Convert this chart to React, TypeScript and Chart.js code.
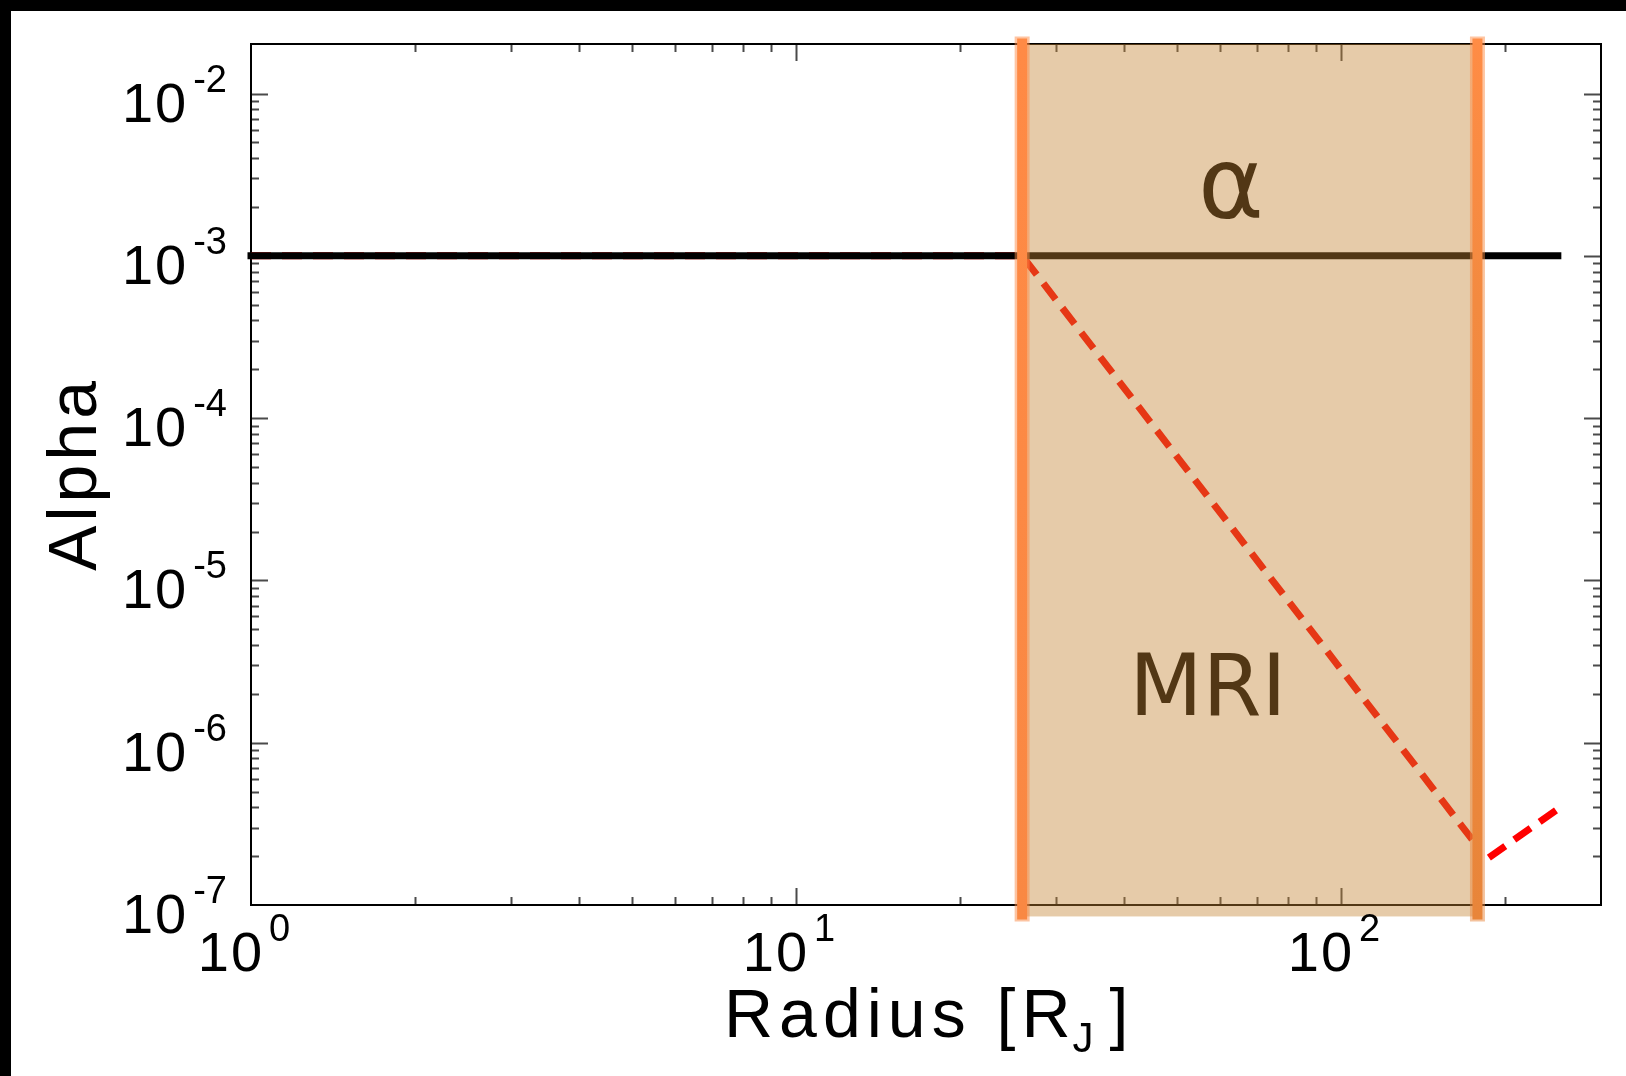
import React, { useEffect, useRef } from 'react';
import { Chart, registerables } from 'chart.js';

Chart.register(...registerables);

// Axis ranges (log-log)
const radiusRange = [1, 300];
const alphaRange = [1e-7, 2.02e-2];
const xDecades = [0, 1, 2];
const yDecades = [-7, -6, -5, -4, -3, -2];

// Constant viscosity alpha
const constRadius = [1, 250];
const constAlpha = [1e-3, 1e-3];

// MRI-driven alpha profile
const mriRadius = [1, 26, 178, 178, 250];
const mriAlpha = [1e-3, 1e-3, 2.3e-7, 1.75e-7, 3.9e-7];

// MRI-active zone boundaries [R_J] and vertical extents
const zoneEdges = [26, 178];
const zoneSpan = [8.5e-8, 2.02e-2];
const edgeSpan = [7.9e-8, 2.25e-2];

// In-zone annotations
const zoneLabels = ['α', 'MRI'];
const zoneLabelRadius = [62.8, 57];
const zoneLabelAlpha = [1.72e-3, 1.48e-6];

const SANS = '"Liberation Sans", Arial, Helvetica, sans-serif';
const LABEL_SANS = '"DejaVu Sans", "Liberation Sans", sans-serif';

function tickValues(decades: number[], min: number, max: number) {
  const out: { v: number; major: boolean }[] = [];
  for (const e of decades) {
    for (let m = 1; m <= 9; m++) {
      const v = m * Math.pow(10, e);
      if (v >= min * 0.999 && v <= max * 1.001) out.push({ v, major: m === 1 });
    }
  }
  return out;
}

const decor = {
  id: 'decor',
  beforeDraw(chart: any) {
    const { ctx, width, height } = chart;
    ctx.save();
    ctx.fillStyle = '#ffffff';
    ctx.fillRect(0, 0, width, height);
    ctx.fillStyle = '#000000';
    ctx.fillRect(0, 0, width, 11);
    ctx.fillRect(0, 0, 11, height);
    ctx.restore();
  },
  beforeDatasetsDraw(chart: any) {
    const { ctx, chartArea, scales } = chart;
    const { left, right, top, bottom } = chartArea;
    const x = scales.x;
    const y = scales.y;
    ctx.save();
    ctx.strokeStyle = '#4a4a4a';
    ctx.lineWidth = 2;
    ctx.beginPath();
    for (const t of tickValues(xDecades, radiusRange[0], radiusRange[1])) {
      const px = Math.round(x.getPixelForValue(t.v)) + 0.5;
      if (px <= left + 2 || px >= right - 2) continue;
      const len = t.major ? 17 : 8;
      ctx.moveTo(px, bottom);
      ctx.lineTo(px, bottom - len);
      ctx.moveTo(px, top);
      ctx.lineTo(px, top + len);
    }
    for (const t of tickValues(yDecades, alphaRange[0], alphaRange[1])) {
      const py = Math.round(y.getPixelForValue(t.v)) + 0.5;
      if (py <= top + 2 || py >= bottom - 2) continue;
      const len = t.major ? 17 : 8;
      ctx.moveTo(left, py);
      ctx.lineTo(left + len, py);
      ctx.moveTo(right, py);
      ctx.lineTo(right - len, py);
    }
    ctx.stroke();
    ctx.strokeStyle = '#000000';
    ctx.lineWidth = 2;
    ctx.strokeRect(left, top, right - left, bottom - top);
    ctx.restore();
  },
  afterDatasetsDraw(chart: any) {
    const { ctx, scales } = chart;
    const x = scales.x;
    const y = scales.y;
    ctx.save();
    // annotations (sit beneath the translucent zone)
    ctx.fillStyle = '#000000';
    ctx.textAlign = 'center';
    ctx.textBaseline = 'alphabetic';
    ctx.font = `100px ${LABEL_SANS}`;
    ctx.fillText(zoneLabels[0], x.getPixelForValue(zoneLabelRadius[0]), y.getPixelForValue(zoneLabelAlpha[0]));
    ctx.font = `85px ${LABEL_SANS}`;
    ctx.fillText(zoneLabels[1], x.getPixelForValue(zoneLabelRadius[1]), y.getPixelForValue(zoneLabelAlpha[1]));

    // MRI-active zone
    const x0 = x.getPixelForValue(zoneEdges[0]);
    const x1 = x.getPixelForValue(zoneEdges[1]);
    const yTop = y.getPixelForValue(zoneSpan[1]);
    const yBot = y.getPixelForValue(zoneSpan[0]);
    ctx.fillStyle = 'rgba(195,131,50,0.42)';
    ctx.fillRect(x0, yTop, x1 - x0, yBot - yTop);

    // zone boundaries
    const eTop = y.getPixelForValue(edgeSpan[1]);
    const eBot = y.getPixelForValue(edgeSpan[0]);
    zoneEdges.forEach((edge, i) => {
      const px = x.getPixelForValue(edge);
      const grad = ctx.createLinearGradient(0, eTop, 0, eBot);
      if (i === 0) {
        grad.addColorStop(0, '#ff8a45');
        grad.addColorStop(1, '#f98843');
      } else {
        grad.addColorStop(0, '#ff8c45');
        grad.addColorStop(0.3, '#f38a40');
        grad.addColorStop(1, '#e8853a');
      }
      ctx.strokeStyle = grad;
      ctx.globalAlpha = 0.5;
      ctx.lineWidth = 15;
      ctx.beginPath();
      ctx.moveTo(px, eTop);
      ctx.lineTo(px, eBot);
      ctx.stroke();
      ctx.globalAlpha = 1;
      ctx.lineWidth = 10;
      ctx.beginPath();
      ctx.moveTo(px, eTop + 2);
      ctx.lineTo(px, eBot - 2);
      ctx.stroke();
    });
    ctx.restore();
  },
  afterDraw(chart: any) {
    const { ctx, chartArea, scales } = chart;
    const { left, bottom } = chartArea;
    const x = scales.x;
    const y = scales.y;
    ctx.save();
    ctx.fillStyle = '#000000';
    ctx.textBaseline = 'alphabetic';
    ctx.textAlign = 'left';
    const baseFont = `56px ${SANS}`;
    const supFont = `38px ${SANS}`;
    const measure = (e: number) => {
      ctx.font = baseFont;
      (ctx as any).letterSpacing = '2px';
      const w1 = ctx.measureText('10').width;
      ctx.font = supFont;
      (ctx as any).letterSpacing = '0px';
      const w2 = ctx.measureText(String(e)).width;
      return { w1, w2 };
    };
    const drawPow = (e: number, sx: number, baseY: number, supY: number) => {
      const { w1 } = measure(e);
      ctx.font = baseFont;
      (ctx as any).letterSpacing = '2px';
      ctx.fillText('10', sx, baseY);
      ctx.font = supFont;
      (ctx as any).letterSpacing = '0px';
      ctx.fillText(String(e), sx + w1 + 5, supY);
    };
    // x tick labels
    for (const e of xDecades) {
      const px = x.getPixelForValue(Math.pow(10, e));
      const { w1, w2 } = measure(e);
      const total = w1 + 5 + w2;
      drawPow(e, px - 7 - total / 2, bottom + 66, bottom + 36);
    }
    // y tick labels
    for (const e of yDecades) {
      const py = y.getPixelForValue(Math.pow(10, e));
      const { w1, w2 } = measure(e);
      const total = w1 + 5 + w2;
      drawPow(e, left - 24 - total, py + 28, py - 2);
    }
    // axis titles
    ctx.font = `68px ${SANS}`;
    (ctx as any).letterSpacing = '4px';
    ctx.save();
    ctx.translate(96, 476);
    ctx.rotate(-Math.PI / 2);
    ctx.textAlign = 'center';
    ctx.fillText('Alpha', 2, 0);
    ctx.restore();

    (ctx as any).letterSpacing = '6px';
    ctx.textAlign = 'left';
    const tx = 724;
    const ty = 1037;
    const main = 'Radius [R';
    ctx.fillText(main, tx, ty);
    const wMain = ctx.measureText(main).width;
    ctx.font = `42px ${SANS}`;
    (ctx as any).letterSpacing = '0px';
    ctx.fillText('J', tx + wMain - 4, ty + 15);
    const wJ = ctx.measureText('J').width;
    ctx.font = `68px ${SANS}`;
    ctx.fillText(']', tx + wMain - 4 + wJ + 16, ty);
    ctx.restore();
  },
};

export default function App() {
  const ref = useRef<HTMLCanvasElement>(null);
  useEffect(() => {
    const canvas = ref.current;
    if (!canvas) return;
    const chart = new Chart(canvas, {
      type: 'scatter',
      data: {
        datasets: [
          {
            label: 'alpha',
            data: constRadius.map((r, i) => ({ x: r, y: constAlpha[i] })),
            showLine: true,
            borderColor: '#000000',
            borderWidth: 7,
            borderCapStyle: 'square',
            pointRadius: 0,
            clip: false,
          },
          {
            label: 'MRI',
            data: mriRadius.map((r, i) => ({ x: r, y: mriAlpha[i] })),
            showLine: true,
            borderColor: '#ff0000',
            borderWidth: 7,
            borderDash: [20, 11],
            borderCapStyle: 'butt',
            pointRadius: 0,
            clip: false,
          },
        ],
      },
      options: {
        animation: false,
        responsive: false,
        devicePixelRatio: 1,
        layout: { padding: { left: 251, top: 44, right: 25, bottom: 171 } },
        scales: {
          x: { type: 'logarithmic', min: radiusRange[0], max: radiusRange[1], display: false },
          y: { type: 'logarithmic', min: alphaRange[0], max: alphaRange[1], display: false },
        },
        plugins: {
          legend: { display: false },
          tooltip: { enabled: false },
        },
      },
      plugins: [decor],
    } as any);
    return () => chart.destroy();
  }, []);
  return (
    <div style={{ position: 'absolute', left: 0, top: 0, width: 1626, height: 1076 }}>
      <canvas ref={ref} width={1626} height={1076} style={{ display: 'block', width: 1626, height: 1076 }} />
    </div>
  );
}
